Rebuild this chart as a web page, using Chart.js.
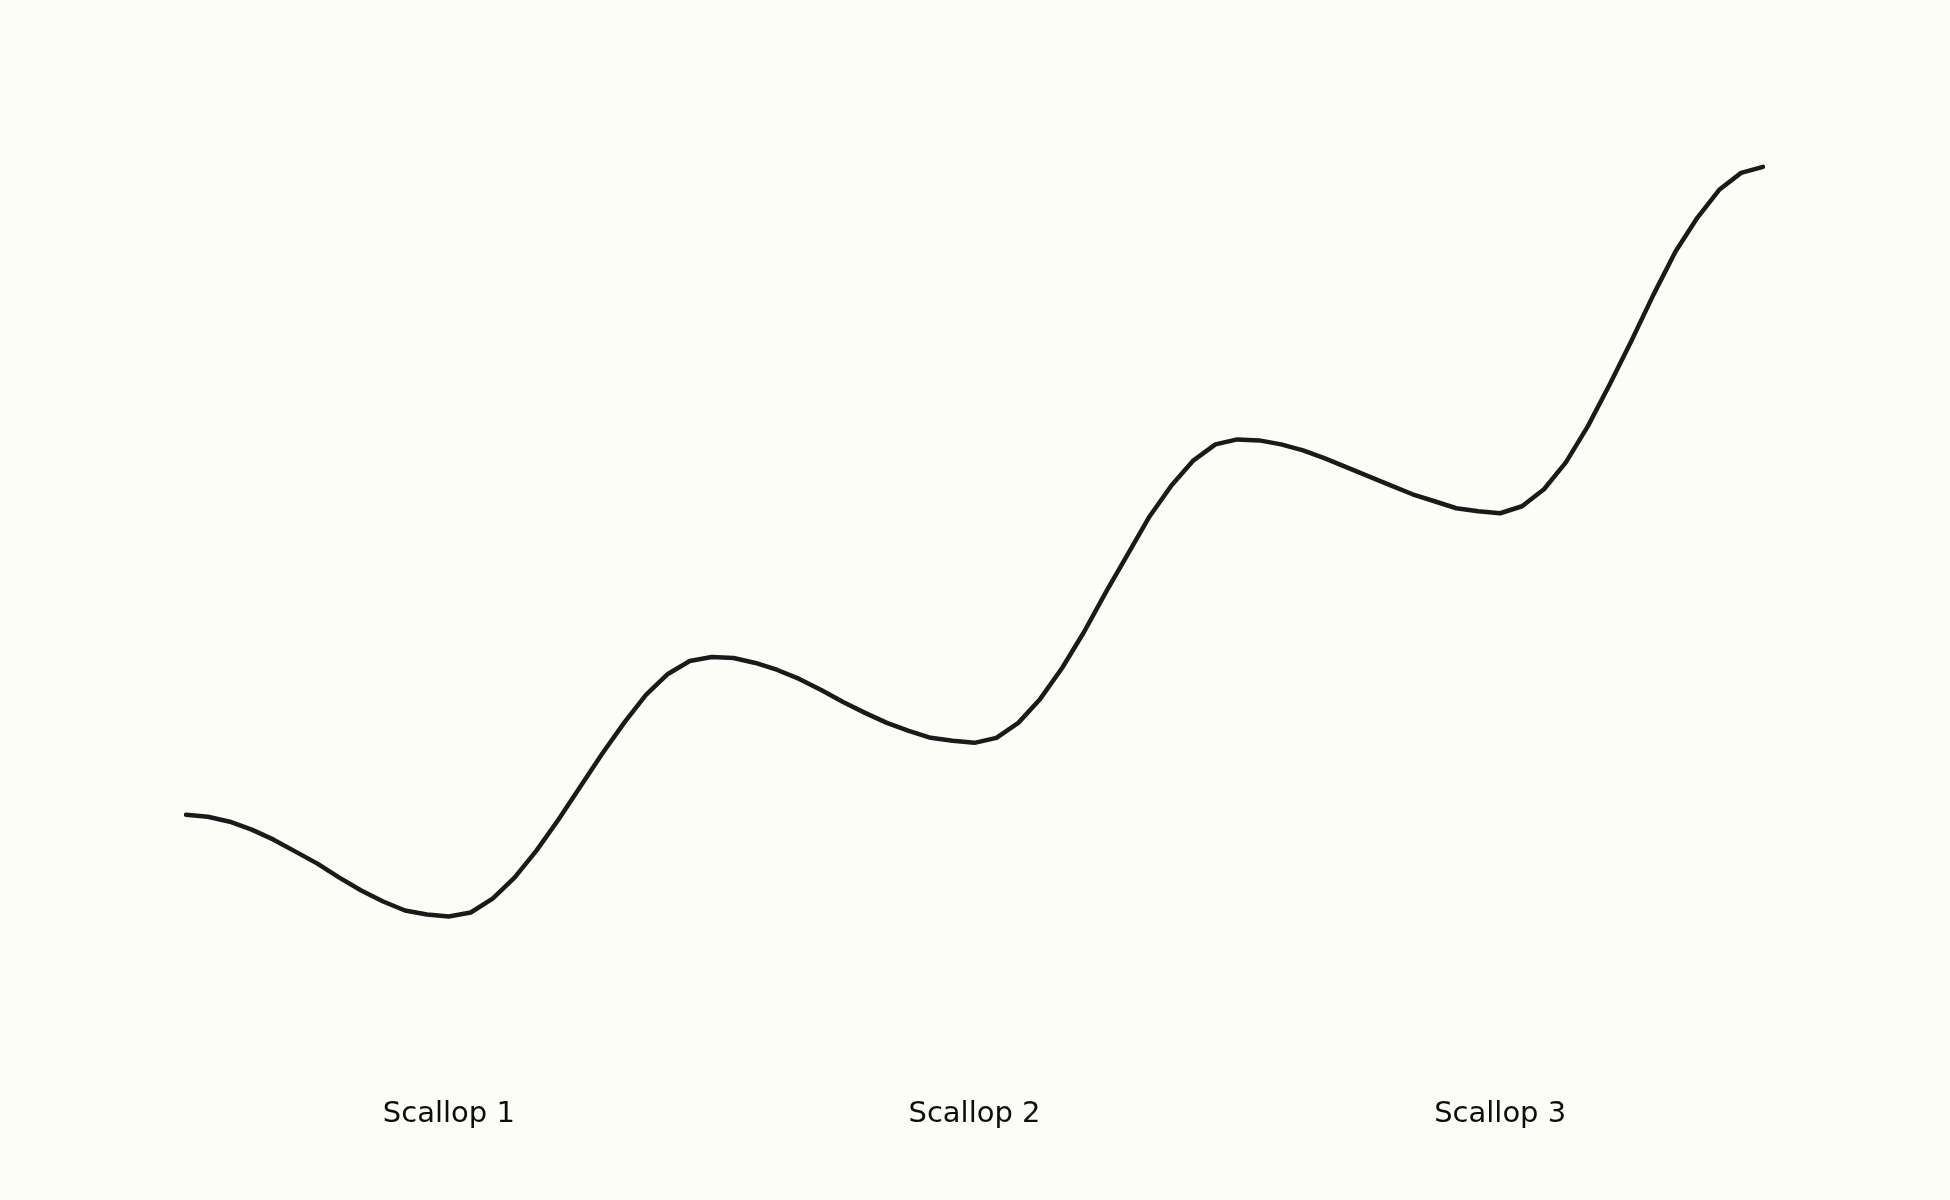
<!DOCTYPE html>
<html>
<head>
<meta charset="utf-8">
<script src="https://cdn.jsdelivr.net/npm/chart.js@4.4.1/dist/chart.umd.min.js"></script>
<style>
  html, body { margin: 0; padding: 0; background: #fdfdf8; }
  #wrap { width: 1950px; height: 1200px; }
</style>
</head>
<body>
<div id="wrap"><canvas id="mainChart" width="1950" height="1200"></canvas></div>
<script>
// one sample per step, 73 samples, three scallops
const tickIndex = [12, 36, 60];
const tickLabels = ['Scallop 1', 'Scallop 2', 'Scallop 3'];
const heights = [
  18.4, 18.2, 17.7, 16.9, 15.9, 14.7, 13.5, 12.1, 10.8, 9.7,
  8.8, 8.4, 8.2, 8.6, 10.0, 12.1, 14.8, 17.9, 21.2, 24.5,
  27.6, 30.4, 32.5, 33.8, 34.2, 34.1, 33.6, 32.9, 32.0, 30.9,
  29.7, 28.6, 27.6, 26.8, 26.1, 25.8, 25.6, 26.1, 27.6, 30.0,
  33.1, 36.7, 40.7, 44.5, 48.3, 51.4, 53.9, 55.5, 56.0, 55.9,
  55.5, 54.9, 54.1, 53.2, 52.3, 51.4, 50.5, 49.8, 49.1, 48.8,
  48.6, 49.3, 51.0, 53.7, 57.3, 61.5, 65.9, 70.5, 74.8, 78.2,
  81.0, 82.7, 83.3
];

function makeChart(){
    const labels = heights.map((h, i) => {
        const k = tickIndex.indexOf(i);
        return k >= 0 ? tickLabels[k] : '';
    });
    const ctx = document.getElementById('mainChart').getContext('2d');
    window.myChart = new Chart(ctx, {
        type: 'line',
        data: {
            labels: labels,
            datasets: [{
                data: heights,
                borderColor: '#1a1a1a',
                borderWidth: 4.5,
                borderCapStyle: 'round',
                borderJoinStyle: 'round',
                pointRadius: 0,
                tension: 0,
                fill: false
            }]
        },
        options: {
            responsive: false,
            animation: false,
            devicePixelRatio: 1,
            layout: { padding: { left: 186, right: 187, top: 100, bottom: 58 } },
            plugins: { legend: { display: false }, tooltip: { enabled: false } },
            scales: {
                x: {
                    offset: false,
                    grid: { display: false, drawTicks: false },
                    border: { display: false },
                    ticks: {
                        autoSkip: false,
                        maxRotation: 0,
                        padding: 10,
                        color: '#0d0d0d',
                        font: { family: 'DejaVu Sans', size: 29 }
                    }
                },
                y: {
                    display: false,
                    min: -8.9,
                    max: 90
                }
            }
        }
    });
}
document.addEventListener("DOMContentLoaded", makeChart);
</script>
</body>
</html>
